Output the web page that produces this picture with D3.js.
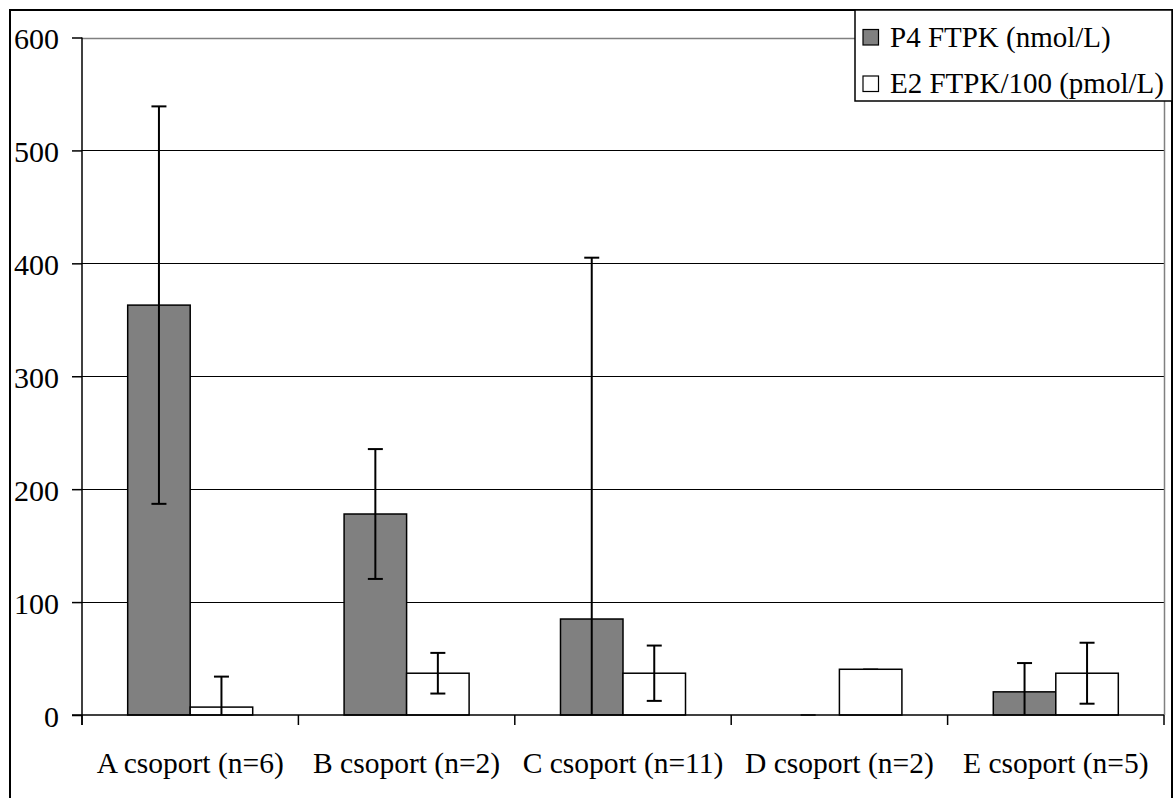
<!DOCTYPE html>
<html>
<head>
<meta charset="utf-8">
<script src="https://cdn.jsdelivr.net/npm/d3@7"></script>
<style>
  html, body { margin: 0; padding: 0; background: #fff; }
  svg { display: block; }
</style>
</head>
<body>
<svg id="chart" width="1174" height="798"></svg>
<script>
// Group labels
const categories = ["A csoport (n=6)", "B csoport (n=2)", "C csoport (n=11)", "D csoport (n=2)", "E csoport (n=5)"];
// Series names (legend)
const seriesNames = ["P4 FTPK (nmol/L)", "E2 FTPK/100 (pmol/L)"];
// Means
const p4Values = [363, 178, 85, 0, 20.5];
const e2Values = [7, 37, 37, 40.5, 37];
// Error (± half-width)
const p4Errors = [176, 57.5, 320, 0, 25.5];
const e2Errors = [27, 18, 24.5, 0, 27];
// Y axis ticks
const yTicks = [0, 100, 200, 300, 400, 500, 600];
const seriesFill = ["#808080", "#ffffff"];

const FONT = "'Liberation Serif', 'Times New Roman', Times, serif";
const FS = 29.5;

const svg = d3.select("#chart");
const plot = { left: 82, right: 1164, top: 37.5, bottom: 715 };

const x0 = d3.scaleBand().domain(categories).range([plot.left, plot.right]).paddingInner(0).paddingOuter(0);
const x1 = d3.scaleBand().domain(seriesNames).range([0, x0.bandwidth()]).paddingInner(0).paddingOuter(0.731);
const y = d3.scaleLinear().domain([0, 600]).range([plot.bottom, plot.top]);

// Outer chart frame
svg.append("rect").attr("x", 10).attr("y", 10).attr("width", 1162).attr("height", 800)
  .attr("fill", "#fff").attr("stroke", "#000").attr("stroke-width", 2);

// Gridlines
svg.append("g").selectAll("line").data(yTicks.filter(d => d > 0)).join("line")
  .attr("x1", plot.left).attr("x2", plot.right)
  .attr("y1", d => Math.round(y(d)) + 0.5).attr("y2", d => Math.round(y(d)) + 0.5)
  .attr("stroke", "#000").attr("stroke-width", 1);

// Plot area border (top and right)
svg.append("path")
  .attr("d", `M${plot.left},${Math.round(plot.top) + 0.5}H${plot.right + 0.5}V${plot.bottom}`)
  .attr("fill", "none").attr("stroke", "#808080").attr("stroke-width", 1.5);

// Rows of data per category
const rows = categories.map((c, i) => ({
  cat: c,
  items: [
    { s: seriesNames[0], v: p4Values[i], e: p4Errors[i], fill: seriesFill[0] },
    { s: seriesNames[1], v: e2Values[i], e: e2Errors[i], fill: seriesFill[1] }
  ]
}));

const groups = svg.append("g").selectAll("g").data(rows).join("g")
  .attr("transform", d => `translate(${x0(d.cat)},0)`);

// Bars
groups.selectAll("rect").data(d => d.items).join("rect")
  .attr("x", d => x1(d.s))
  .attr("y", d => y(d.v))
  .attr("width", x1.bandwidth())
  .attr("height", d => y(0) - y(d.v))
  .attr("fill", d => d.fill)
  .attr("stroke", "#000").attr("stroke-width", 1.5);

// Error bars (clipped at the category axis)
const capW = 15;
const eb = groups.selectAll("g.err").data(d => d.items).join("g").attr("class", "err");
eb.filter(d => d.e > 0).append("line")
  .attr("x1", d => x1(d.s) + x1.bandwidth() / 2).attr("x2", d => x1(d.s) + x1.bandwidth() / 2)
  .attr("y1", d => y(d.v + d.e)).attr("y2", d => y(Math.max(0, d.v - d.e)))
  .attr("stroke", "#000").attr("stroke-width", 2);
eb.append("line")
  .attr("x1", d => x1(d.s) + x1.bandwidth() / 2 - capW / 2).attr("x2", d => x1(d.s) + x1.bandwidth() / 2 + capW / 2)
  .attr("y1", d => y(d.v + d.e)).attr("y2", d => y(d.v + d.e))
  .attr("stroke", "#000").attr("stroke-width", d => d.e > 0 ? 2 : 1.5);
eb.filter(d => d.e > 0 && d.v - d.e >= 0).append("line")
  .attr("x1", d => x1(d.s) + x1.bandwidth() / 2 - capW / 2).attr("x2", d => x1(d.s) + x1.bandwidth() / 2 + capW / 2)
  .attr("y1", d => y(d.v - d.e)).attr("y2", d => y(d.v - d.e))
  .attr("stroke", "#000").attr("stroke-width", 2);

// Y axis
const yAxis = svg.append("g").attr("transform", `translate(${plot.left},0)`)
  .call(d3.axisLeft(y).tickValues(yTicks).tickSize(10).tickPadding(13).tickFormat(d3.format("d")));
yAxis.select(".domain").attr("d", `M0,${plot.top}V${plot.bottom + 10}`).attr("stroke", "#000").attr("stroke-width", 1.5);
yAxis.selectAll(".tick line").attr("stroke", "#000").attr("stroke-width", 1.5);
yAxis.selectAll(".tick text")
  .attr("dy", "0.38em")
  .style("font-family", FONT).style("font-size", "30px").attr("fill", "#000");

// X axis
const xAxis = svg.append("g").attr("transform", `translate(0,${plot.bottom})`);
xAxis.append("line").attr("x1", plot.left - 10).attr("x2", plot.right)
  .attr("y1", 0).attr("y2", 0).attr("stroke", "#000").attr("stroke-width", 1.5);
const boundaries = categories.map(c => x0(c)).concat([plot.right]);
xAxis.selectAll("line.tk").data(boundaries).join("line").attr("class", "tk")
  .attr("x1", d => d).attr("x2", d => d).attr("y1", 0).attr("y2", 10)
  .attr("stroke", "#000").attr("stroke-width", 1.5);
xAxis.selectAll("text").data(categories).join("text")
  .attr("x", d => x0(d) + x0.bandwidth() / 2)
  .attr("y", 57.5)
  .attr("text-anchor", "middle")
  .attr("fill", "#000")
  .style("font-family", FONT).style("font-size", FS + "px")
  .text(d => d);

// Legend
const lg = svg.append("g");
lg.append("rect").attr("x", 855).attr("y", 10).attr("width", 317).attr("height", 91)
  .attr("fill", "#fff").attr("stroke", "#000").attr("stroke-width", 1.5);
const li = lg.selectAll("g").data(seriesNames).join("g")
  .attr("transform", (d, i) => `translate(863,${29.5 + i * 46.5})`);
li.append("rect").attr("width", 15.5).attr("height", 15.5)
  .attr("fill", (d, i) => seriesFill[i]).attr("stroke", "#000").attr("stroke-width", 1.2);
li.append("text").attr("x", 27).attr("y", 17)
  .attr("fill", "#000")
  .style("font-family", FONT).style("font-size", "29px")
  .text(d => d);
</script>
</body>
</html>
